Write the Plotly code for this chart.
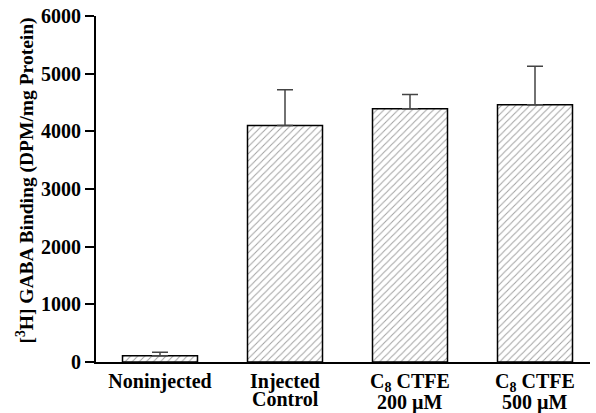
import plotly.graph_objects as go

categories = ["Noninjected", "Injected", "C<sub>8</sub> CTFE", "C<sub>8</sub> CTFE"]
categories_line2 = ["", "Control", "200 µM", "500 µM"]
values = [110, 4100, 4390, 4460]
errors = [60, 620, 250, 670]
y_ticks = [0, 1000, 2000, 3000, 4000, 5000, 6000]
y_title = "[<sup>3</sup>H] GABA Binding (DPM/mg Protein)"

font_family = "Times New Roman, Liberation Serif, serif"
fs = 20

fig = go.Figure()
fig.add_trace(go.Bar(
    x=list(range(len(categories))),
    y=values,
    width=0.6,
    marker=dict(
        color="white",
        line=dict(color="black", width=1.5),
        pattern=dict(shape="/", size=5, solidity=0.2, fgcolor="#444444", bgcolor="white"),
    ),
    error_y=dict(type="data", array=errors, arrayminus=[0] * len(errors), symmetric=False,
                 color="#444444", thickness=1.5, width=8),
    showlegend=False,
))

# second lines of the category labels (tighter line spacing than Plotly's tick labels)
for i, txt in enumerate(categories_line2):
    if not txt:
        continue
    yv = -0.108 if i == 1 else -0.117
    fig.add_annotation(x=i, y=yv, xref="x", yref="paper", text="<b>%s</b>" % txt,
                       showarrow=False, xanchor="center", yanchor="middle",
                       font=dict(family=font_family, size=fs, color="black"))

# y-axis title
fig.add_annotation(x=-0.1437, y=0.5246, xref="paper", yref="paper", text="<b>%s</b>" % y_title,
                   textangle=-90, showarrow=False, xanchor="center", yanchor="middle",
                   font=dict(family=font_family, size=19.5, color="black"))

fig.update_layout(
    width=596, height=413,
    margin=dict(l=96, r=6, t=16, b=51),
    paper_bgcolor="white", plot_bgcolor="white",
    font=dict(family=font_family, size=fs, color="black"),
    bargap=0.4,
)
fig.update_xaxes(
    range=[-0.512, 3.44], automargin=False,
    tickmode="array", tickvals=list(range(len(categories))), ticktext=["<b>%s</b>" % c for c in categories],
    showline=True, linecolor="black", linewidth=2,
    ticks="", showgrid=False, zeroline=False,
    tickfont=dict(family=font_family, size=fs, color="black"),
)
fig.update_yaxes(
    range=[0, 6000], automargin=False,
    tickmode="array", tickvals=y_ticks, ticktext=["<b>%d</b>" % t for t in y_ticks],
    showline=True, linecolor="black", linewidth=2,
    ticks="outside", ticklen=9, tickwidth=1.5, tickcolor="black",
    showgrid=False, zeroline=False,
    tickfont=dict(family=font_family, size=fs, color="black"),
)

fig.write_html("out.html", config={"displayModeBar": False},
               post_script="document.body.style.margin='0';document.body.style.overflow='hidden';")
